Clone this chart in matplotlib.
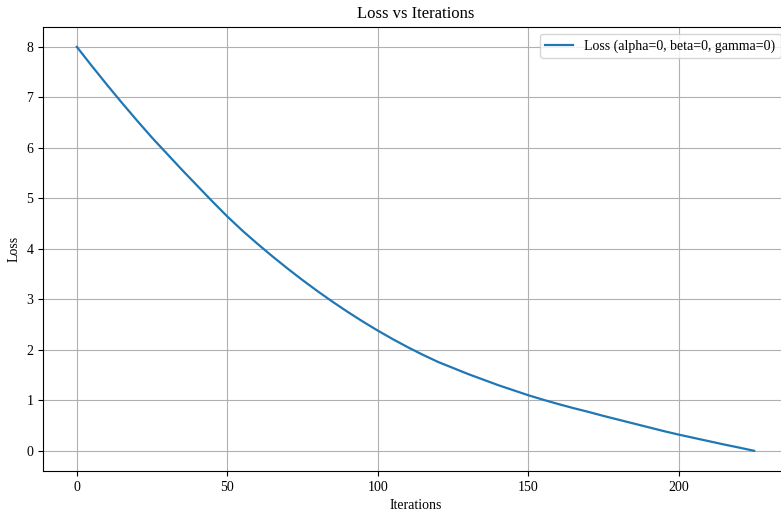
import matplotlib
matplotlib.use("Agg")
import matplotlib.pyplot as plt

plt.rcParams['font.family'] = ['Liberation Serif', 'DejaVu Serif']

iterations = [0, 5, 10, 15, 20, 25, 30, 35, 40, 45, 50, 55, 60, 65, 70, 75, 80,
              85, 90, 95, 100, 105, 110, 115, 120, 125, 130, 135, 140, 145, 150,
              155, 160, 165, 170, 175, 180, 185, 190, 195, 200, 205, 210, 215,
              220, 225]
loss = [8.00, 7.62, 7.25, 6.89, 6.54, 6.20, 5.88, 5.56, 5.25, 4.94, 4.64, 4.36,
        4.10, 3.85, 3.61, 3.38, 3.16, 2.95, 2.75, 2.56, 2.38, 2.21, 2.05, 1.90,
        1.76, 1.64, 1.52, 1.41, 1.30, 1.20, 1.10, 1.01, 0.925, 0.845, 0.77,
        0.69, 0.615, 0.54, 0.465, 0.39, 0.32, 0.255, 0.19, 0.125, 0.064, 0.0]

title = "Loss vs Iterations"
xlabel = "Iterations"
ylabel = "Loss"
series_label = "Loss (alpha=0, beta=0, gamma=0)"

fig = plt.figure(figsize=(7.81, 5.15), dpi=100)
ax = fig.add_axes([43/781, 44/515, 745/781, 444.3/515])
ax.plot(iterations, loss, color='#1f77b4', linewidth=1.6, label=series_label)
ax.set_title(title, fontsize=12)
ax.set_xlabel(xlabel, fontsize=10)
ax.set_ylabel(ylabel, fontsize=10)
ax.grid(True, color='#b0b0b0', linewidth=0.8)
ax.legend(loc='upper right', fontsize=10)
ax.tick_params(labelsize=10)
fig.savefig("out.png", dpi=100)
